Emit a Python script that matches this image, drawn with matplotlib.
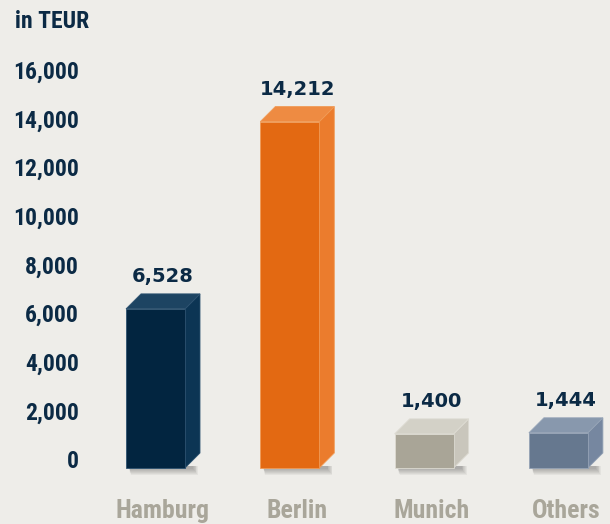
import matplotlib
matplotlib.use('Agg')
import matplotlib.pyplot as plt
from matplotlib.patches import Polygon
from matplotlib import font_manager as fm

# ---- data ----
categories = ['Hamburg', 'Berlin', 'Munich', 'Others']
values = [6528, 14212, 1400, 1444]
value_labels = ['6,528', '14,212', '1,400', '1,444']
yticks = [0, 2000, 4000, 6000, 8000, 10000, 12000, 14000, 16000]
ytick_labels = ['0', '2,000', '4,000', '6,000', '8,000', '10,000', '12,000', '14,000', '16,000']
unit_label = 'in TEUR'

front_colors = ['#022540', '#e36912', '#a9a597', '#66788f']
side_colors = ['#0c3554', '#eb7c2d', '#c9c6bc', '#7687a0']
top_colors = ['#1d4462', '#ee8b42', '#d3d1c7', '#8898ad']
edge_colors = ['#2d5270', '#f09a55', '#dddbd2', '#95a3b6']

BG = '#eeede9'
NAVY = '#0b2a45'
GRAY = '#a9a69a'

names = {f.name for f in fm.fontManager.ttflist}
narrow = next((n for n in ['Liberation Sans Narrow', 'Roboto Condensed', 'Open Sans Condensed',
                           'DejaVu Sans Condensed', 'Liberation Sans'] if n in names), 'DejaVu Sans')

W, H = 610, 524
fig = plt.figure(figsize=(W / 100, H / 100), dpi=100)
fig.patch.set_facecolor(BG)
ax = fig.add_axes([0, 0, 1, 1])
ax.set_facecolor(BG)
ax.axis('off')

ppu_y = 48.75 / 2000.0
y0_px = 468
ax.set_ylim(-(H - y0_px) / ppu_y, y0_px / ppu_y)
ppu_x = 134.3
x0_px = 155.5
ax.set_xlim(-x0_px / ppu_x, (W - x0_px) / ppu_x)

def px_x(p):
    return p / ppu_x

def px_y(p):
    return p / ppu_y

bw = px_x(59)
dx = px_x(15)
dy = px_y(15)

for i, (cat, v) in enumerate(zip(categories, values)):
    xl = i - bw / 2
    xr = i + bw / 2
    # shadow
    for k in range(1, 8):
        sh = Polygon([(xl + px_x(3), px_y(2)), (xr + dx * 0.5 + px_x(k * 0.8), px_y(2)),
                      (xr + dx * 0.5 + px_x(k * 0.8), -px_y(k * 1.0)), (xl + px_x(3 + k * 0.3), -px_y(k * 1.0))],
                     closed=True, facecolor='#3a3a3a', edgecolor='none', alpha=0.06, zorder=1)
        ax.add_patch(sh)
    side = Polygon([(xr, 0), (xr + dx, dy), (xr + dx, v + dy), (xr, v)], closed=True,
                   facecolor=side_colors[i], edgecolor=edge_colors[i], lw=0.6, zorder=2)
    top = Polygon([(xl, v), (xl + dx, v + dy), (xr + dx, v + dy), (xr, v)], closed=True,
                  facecolor=top_colors[i], edgecolor=edge_colors[i], lw=0.6, zorder=2)
    front = Polygon([(xl, 0), (xr, 0), (xr, v), (xl, v)], closed=True,
                    facecolor=front_colors[i], edgecolor=edge_colors[i], lw=0.6, zorder=3)
    for p in (side, top, front):
        ax.add_patch(p)
    ax.text(i + dx / 2, v + dy + px_y(8), value_labels[i], ha='center', va='bottom',
            fontsize=14, fontweight='bold', color=NAVY, family='DejaVu Sans', zorder=4)
    ax.text(i + dx / 2, -px_y(50), cat, ha='center', va='baseline', fontsize=18.5,
            fontweight='bold', color=GRAY, family=narrow, zorder=4)

xt = -x0_px / ppu_x + px_x(79)
for t, lab in zip(yticks, ytick_labels):
    ax.text(xt, t + px_y(6), lab, ha='right', va='center', fontsize=17, fontweight='bold',
            color=NAVY, family=narrow)

ax.text(-x0_px / ppu_x + px_x(15), px_y(y0_px - 22), unit_label, ha='left', va='center',
        fontsize=17, fontweight='bold', color=NAVY, family=narrow)

fig.savefig('out.png', dpi=100, facecolor=BG)
